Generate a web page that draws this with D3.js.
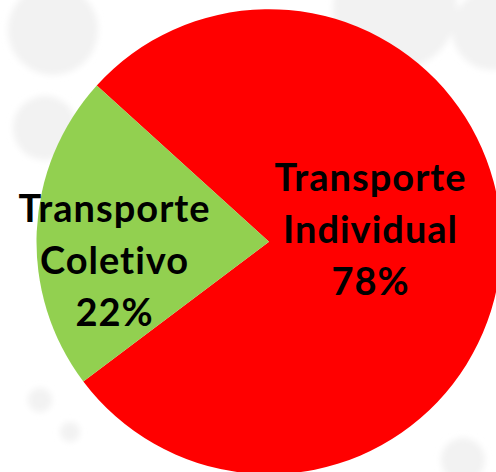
<!DOCTYPE html>
<html>
<head>
<meta charset="utf-8">
<script src="https://cdn.jsdelivr.net/npm/d3@7"></script>
<style>
  html, body { margin: 0; padding: 0; background: #ffffff; overflow: hidden; }
  svg { display: block; }
</style>
</head>
<body>
<div id="chart"></div>
<script>
// data
var categories = ["Transporte Individual", "Transporte Coletivo"];
var shares = [78, 22];
var labelLines = [["Transporte", "Individual", "78%"], ["Transporte", "Coletivo", "22%"]];
var colors = ["#ff0000", "#92d050"];

var width = 496, height = 472;
var cx = 269, cy = 241.7, radius = 232.5;

var svg = d3.select("#chart").append("svg")
    .attr("width", width)
    .attr("height", height);

// faint background blobs (decoration of the slide)
var defs = svg.append("defs");
defs.append("filter").attr("id", "blur")
    .append("feGaussianBlur").attr("stdDeviation", 3);

var blobs = [[53, 30, 45], [45, 128, 32], [395, 8, 62], [492, 30, 40], [463, 460, 22], [40, 400, 12], [70, 432, 10]];
svg.append("g").attr("filter", "url(#blur)")
    .selectAll("circle")
    .data(blobs)
    .enter().append("circle")
    .attr("cx", function(d) { return d[0]; })
    .attr("cy", function(d) { return d[1]; })
    .attr("r", function(d) { return d[2]; })
    .attr("fill", "#f2f2f2");

var data = categories.map(function(c, i) {
    return { name: c, value: shares[i], lines: labelLines[i], color: colors[i] };
});

var pie = d3.pie()
    .sort(null)
    .value(function(d) { return d.value; })
    .startAngle(-47.8 * Math.PI / 180)
    .endAngle(312.2 * Math.PI / 180);

var arc = d3.arc().innerRadius(0).outerRadius(radius);

var g = svg.append("g").attr("transform", "translate(" + cx + "," + cy + ")");

var arcs = pie(data);

g.selectAll("path")
    .data(arcs)
    .enter().append("path")
    .attr("d", arc)
    .attr("fill", function(d) { return d.data.color; });

// label anchors (middle line baseline), relative to pie center
var labelAnchor = [[101, 1.3], [-155, 32]];

var lineHeight = 52;
var labels = g.selectAll("text.lbl")
    .data(arcs)
    .enter().append("text")
    .attr("class", "lbl")
    .attr("text-anchor", "middle")
    .attr("font-family", "Lato, 'Open Sans', sans-serif")
    .attr("font-weight", "bold")
    .attr("font-size", 38)
    .attr("letter-spacing", 1)
    .attr("fill", "#000")
    .attr("transform", function(d, i) {
        return "translate(" + labelAnchor[i][0] + "," + labelAnchor[i][1] + ")";
    });

labels.selectAll("tspan")
    .data(function(d) { return d.data.lines; })
    .enter().append("tspan")
    .attr("x", 0.5)
    .attr("y", function(d, i) { return (i - 1) * lineHeight; })
    .text(function(d) { return d; });
</script>
</body>
</html>
